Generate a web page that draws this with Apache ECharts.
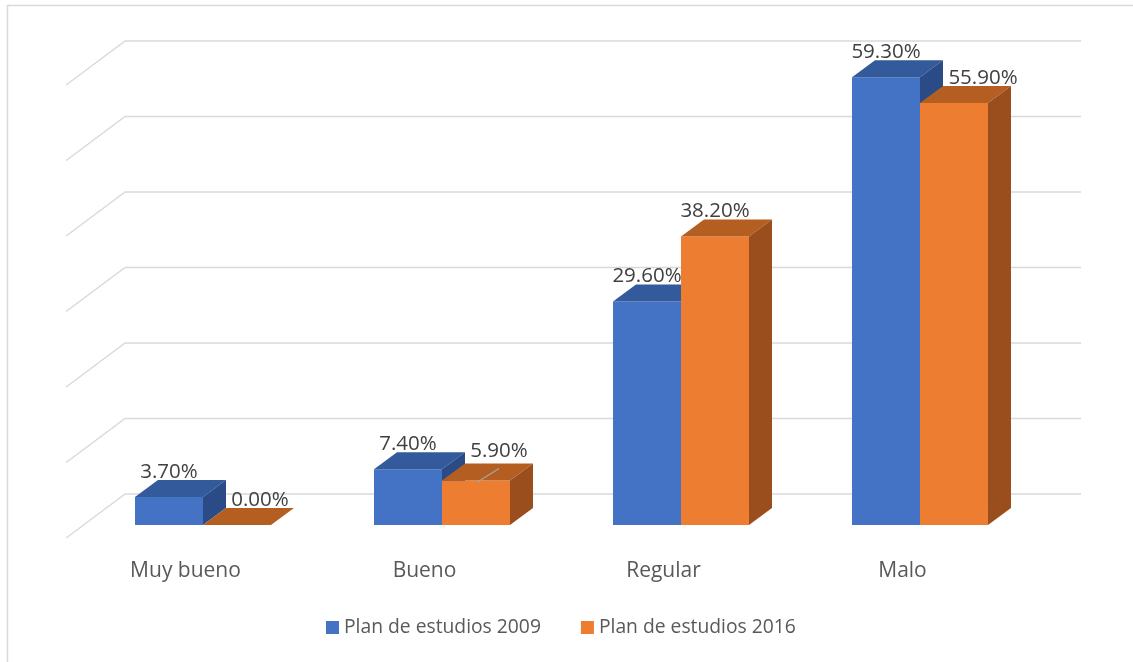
<!DOCTYPE html>
<html>
<head>
<meta charset="utf-8">
<script src="https://cdn.jsdelivr.net/npm/echarts@6/dist/echarts.min.js"></script>
<style>
html,body{margin:0;padding:0;background:#fff;}
#chart{width:1133px;height:662px;}
</style>
</head>
<body>
<div id="chart"></div>
<script>
const categories = ['Muy bueno', 'Bueno', 'Regular', 'Malo'];
const plan2009 = [3.7, 7.4, 29.6, 59.3];
const plan2016 = [0.0, 5.9, 38.2, 55.9];
const seriesNames = ['Plan de estudios 2009', 'Plan de estudios 2016'];
const yTicks = [0, 10, 20, 30, 40, 50, 60];

// styling (not data)
const FONT = "'Open Sans', 'Noto Sans', sans-serif";
const colors = [
  { front: '#4472C4', top: '#335A9B', side: '#2A4B85' },
  { front: '#ED7D31', top: '#B55E22', side: '#9A4E1D' }
];
const labelShift = [
  [[0, 0], [0, 0], [0, 0], [0, 0]],
  [[23, 0], [23, -4], [0, 0], [29, 0]]
];
const leaderLines = [[], [1]];
const DX = 23, DY = 17;          // bar depth projection
const WALL_DX = 41.6, WALL_DY = 31;  // back wall offset from bar front plane
const FLOOR_DX = 17.4, FLOOR_DY = 13; // floor front edge offset

const chart = echarts.init(document.getElementById('chart'), null, { renderer: 'canvas' });

function gridRender(params, api) {
  const v = api.value(1);
  const p0 = api.coord([0, v]);
  const band = api.size([1, 0])[0];
  const left = p0[0] - band / 2;
  const right = api.coord([categories.length - 1, v])[0] + band / 2;
  const y = p0[1];
  return {
    type: 'polyline',
    shape: { points: [[left - FLOOR_DX, y + FLOOR_DY], [left + WALL_DX, y - WALL_DY], [right + WALL_DX, y - WALL_DY]] },
    style: { stroke: '#d9d9d9', lineWidth: 1.4, fill: null },
    silent: true
  };
}

function makeBarRender(si) {
  return function (params, api) {
    const i = api.value(0);
    const v = api.value(1);
    const top = api.coord([i, v]);
    const base = api.coord([i, 0]);
    const band = api.size([1, 0])[0];
    const bw = band * 0.2845;
    const x0 = si === 0 ? top[0] - bw : top[0];
    const ty = top[1], by = base[1];
    const c = colors[si];
    const children = [
      { type: 'rect', shape: { x: x0, y: ty, width: bw, height: by - ty }, style: { fill: c.front } },
      { type: 'polygon', shape: { points: [[x0, ty], [x0 + bw, ty], [x0 + bw + DX, ty - DY], [x0 + DX, ty - DY]] }, style: { fill: c.top } },
      { type: 'polygon', shape: { points: [[x0 + bw, ty], [x0 + bw + DX, ty - DY], [x0 + bw + DX, by - DY], [x0 + bw, by]] }, style: { fill: c.side } }
    ];
    const sh = labelShift[si][i];
    const cx = x0 + bw / 2;
    if (leaderLines[si].indexOf(i) >= 0) {
      children.push({ type: 'line', shape: { x1: cx + 1.5, y1: ty + 1.5, x2: cx + 23, y2: ty - 12 }, style: { stroke: '#a6a6a6', lineWidth: 1.2 } });
    }
    children.push({
      type: 'text',
      style: {
        text: v.toFixed(2) + '%',
        x: cx + sh[0], y: ty - 25 + sh[1],
        align: 'center', verticalAlign: 'middle',
        fontSize: 20.5, fontFamily: FONT, fill: '#404040'
      }
    });
    return { type: 'group', children: children };
  };
}

const option = {
  backgroundColor: '#ffffff',
  animation: false,
  graphic: [{
    type: 'rect', shape: { x: 7.5, y: 5.5, width: 1300, height: 900 },
    style: { fill: null, stroke: '#d9d9d9', lineWidth: 1.5 }, silent: true, z: -10
  }],
  grid: { left: 83.5, top: 72, width: 956, height: 453 },
  xAxis: {
    type: 'category',
    data: categories,
    axisLine: { show: false },
    axisTick: { show: false },
    axisLabel: {
      margin: 34, padding: [0, 35, 0, 0],
      fontSize: 21, fontFamily: FONT, color: '#595959', lineHeight: 24
    },
    splitLine: { show: false }
  },
  yAxis: {
    type: 'value', min: 0, max: 60, interval: 10,
    axisLabel: { show: false }, axisLine: { show: false }, axisTick: { show: false },
    splitLine: { show: false }
  },
  legend: {
    data: seriesNames,
    left: 326, top: 618, padding: 0,
    icon: 'rect', itemWidth: 13, itemHeight: 13, itemGap: 40,
    textStyle: { fontSize: 19.3, fontFamily: FONT, color: '#595959' }
  },
  series: [
    {
      type: 'custom', name: 'grid', renderItem: gridRender,
      data: yTicks.map(v => [0, v]), encode: { x: 0, y: 1 }, z: 1, silent: true
    },
    {
      type: 'custom', name: seriesNames[0], renderItem: makeBarRender(0),
      itemStyle: { color: colors[0].front },
      data: plan2009.map((v, i) => [i, v]), encode: { x: 0, y: 1 }, z: 2
    },
    {
      type: 'custom', name: seriesNames[1], renderItem: makeBarRender(1),
      itemStyle: { color: colors[1].front },
      data: plan2016.map((v, i) => [i, v]), encode: { x: 0, y: 1 }, z: 3
    }
  ]
};
chart.setOption(option);
</script>
</body>
</html>
